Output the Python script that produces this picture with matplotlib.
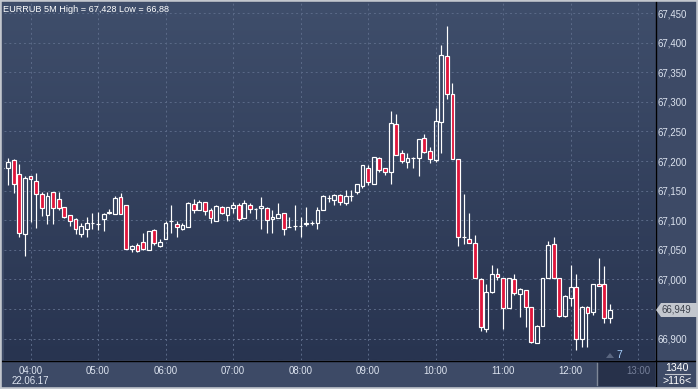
import numpy as np
import pandas as pd
import matplotlib
matplotlib.use('Agg')
import matplotlib.pyplot as plt
from matplotlib.patches import Rectangle, Polygon
from matplotlib.lines import Line2D
from matplotlib.colors import LinearSegmentedColormap

plt.rcParams['font.family'] = ['Liberation Sans', 'DejaVu Sans']

# EURRUB 5M, 22.06.17 from 03:35
opens = [67.188, 67.188, 67.201, 67.178, 67.076, 67.174, 67.167, 67.145, 67.109, 67.147,
         67.135, 67.122, 67.108, 67.102, 67.077, 67.086, 67.096, 67.094, 67.102, 67.112,
         67.110, 67.139, 67.125, 67.051, 67.058, 67.063, 67.050, 67.084, 67.056, 67.068,
         67.099, 67.093, 67.085, 67.088, 67.127, 67.118, 67.130, 67.118, 67.098, 67.123,
         67.108, 67.120, 67.125, 67.103, 67.125, 67.119, 67.120, 67.121, 67.102, 67.103,
         67.112, 67.088, 67.091, 67.091, 67.093, 67.096, 67.095, 67.118, 67.138, 67.134,
         67.142, 67.129, 67.141, 67.147, 67.158, 67.189, 67.162, 67.205, 67.188, 67.181,
         67.262, 67.213, 67.199, 67.205, 67.205, 67.239, 67.217, 67.201, 67.266, 67.377,
         67.314, 67.203, 67.071, 67.068, 67.061, 67.000, 66.917, 66.979, 67.009, 67.002,
         66.952, 67.000, 66.975, 66.982, 66.954, 66.893, 66.922, 67.002, 67.059, 67.002,
         66.938, 66.969, 66.988, 66.899, 66.954, 66.945, 66.993, 66.992, 66.934]
highs = [67.191, 67.205, 67.203, 67.195, 67.174, 67.175, 67.179, 67.148, 67.148, 67.148,
         67.148, 67.123, 67.109, 67.103, 67.095, 67.105, 67.113, 67.114, 67.113, 67.119,
         67.141, 67.146, 67.125, 67.058, 67.061, 67.078, 67.082, 67.086, 67.069, 67.099,
         67.126, 67.098, 67.095, 67.130, 67.135, 67.134, 67.131, 67.120, 67.126, 67.124,
         67.123, 67.130, 67.129, 67.134, 67.129, 67.121, 67.140, 67.122, 67.117, 67.129,
         67.113, 67.106, 67.126, 67.106, 67.122, 67.099, 67.122, 67.143, 67.143, 67.145,
         67.145, 67.151, 67.151, 67.161, 67.193, 67.193, 67.207, 67.207, 67.189, 67.284,
         67.279, 67.219, 67.213, 67.206, 67.238, 67.245, 67.223, 67.289, 67.396, 67.428,
         67.332, 67.203, 67.145, 67.112, 67.075, 67.002, 66.992, 67.024, 67.019, 67.002,
         67.002, 67.009, 66.985, 66.982, 66.954, 66.923, 67.002, 67.065, 67.072, 67.002,
         66.974, 67.024, 67.009, 66.955, 66.955, 66.992, 67.037, 67.023, 66.958]
lows = [67.186, 67.160, 67.146, 67.072, 67.040, 67.097, 67.087, 67.107, 67.093, 67.094,
        67.117, 67.103, 67.090, 67.077, 67.072, 67.072, 67.085, 67.083, 67.081, 67.111,
        67.110, 67.110, 67.051, 67.046, 67.046, 67.050, 67.049, 67.058, 67.055, 67.068,
        67.078, 67.072, 67.083, 67.088, 67.113, 67.118, 67.109, 67.095, 67.098, 67.111,
        67.098, 67.112, 67.099, 67.103, 67.113, 67.102, 67.086, 67.078, 67.078, 67.103,
        67.075, 67.088, 67.083, 67.072, 67.091, 67.092, 67.086, 67.118, 67.131, 67.126,
        67.126, 67.126, 67.133, 67.145, 67.155, 67.160, 67.162, 67.182, 67.176, 67.162,
        67.211, 67.197, 67.189, 67.189, 67.174, 67.213, 67.197, 67.199, 67.214, 67.305,
        67.203, 67.057, 67.060, 67.061, 67.002, 66.913, 66.912, 66.977, 66.999, 66.916,
        66.951, 66.974, 66.936, 66.919, 66.893, 66.892, 66.922, 67.002, 67.003, 66.936,
        66.936, 66.955, 66.880, 66.886, 66.886, 66.940, 66.989, 66.926, 66.927]
closes = [67.188, 67.198, 67.162, 67.078, 67.171, 67.169, 67.144, 67.120, 67.141, 67.121,
          67.120, 67.105, 67.099, 67.085, 67.091, 67.095, 67.096, 67.094, 67.111, 67.114,
          67.137, 67.110, 67.051, 67.056, 67.048, 67.051, 67.082, 67.061, 67.063, 67.096,
          67.099, 67.088, 67.092, 67.129, 67.117, 67.130, 67.116, 67.103, 67.124, 67.113,
          67.122, 67.126, 67.102, 67.129, 67.119, 67.119, 67.124, 67.100, 67.105, 67.110,
          67.086, 67.089, 67.091, 67.091, 67.096, 67.096, 67.118, 67.141, 67.138, 67.142,
          67.130, 67.141, 67.141, 67.161, 67.193, 67.165, 67.207, 67.184, 67.182, 67.265,
          67.211, 67.200, 67.205, 67.205, 67.238, 67.216, 67.203, 67.268, 67.379, 67.314,
          67.203, 67.071, 67.071, 67.061, 67.002, 66.919, 66.978, 67.010, 67.004, 66.951,
          67.002, 66.977, 66.983, 66.953, 66.895, 66.921, 67.002, 67.058, 67.003, 66.939,
          66.972, 66.988, 66.899, 66.953, 66.944, 66.992, 66.989, 66.934, 66.949]

times = pd.date_range('2017-06-22 03:35', periods=len(opens), freq='5min')
hours = pd.date_range('2017-06-22 04:00', '2017-06-22 13:00', freq='h')
price_ticks = np.round(np.arange(66.90, 67.451, 0.05), 2)

W, H = 698, 389
def fx(px):
    return px / W
def fy(py):
    return 1 - py / H

panel = '#3d4a66'
fig = plt.figure(figsize=(W / 100, H / 100), dpi=100, facecolor=panel)
ax = fig.add_axes([fx(4), fy(360), fx(655) - fx(4), fy(3) - fy(360)])

x = np.arange(len(opens))
xmin, xmax = 0.28, 116.0
ymin, ymax = 66.8639, 67.4669

# gradient background
cmap = LinearSegmentedColormap.from_list('bg', ['#3f4e6b', '#283450'])
ax.imshow(np.linspace(0, 1, 256).reshape(-1, 1), cmap=cmap, aspect='auto',
          extent=[xmin, xmax, ymin, ymax], zorder=0)

# grid
hour_pos = [(t - times[0]) / pd.Timedelta('5min') for t in hours]
for p in price_ticks:
    ax.axhline(p, color='#5b6a88', lw=0.7, ls=(0, (2, 3)), zorder=1)
for hp in hour_pos:
    ax.axvline(hp, color='#5b6a88', lw=0.7, ls=(0, (2, 3)), zorder=1)

# candles
o = np.array(opens); h = np.array(highs); l = np.array(lows); c = np.array(closes)
top = np.maximum(o, c); bot = np.minimum(o, c)
up = c >= o
ax.vlines(x, top, h, color='white', lw=0.85, zorder=2)
ax.vlines(x, l, bot, color='white', lw=0.85, zorder=2)
ax.bar(x[up], (top - bot)[up], bottom=bot[up], width=0.68, facecolor='none',
       edgecolor='white', linewidth=0.85, zorder=3)
ax.bar(x[~up], (top - bot)[~up], bottom=bot[~up], width=0.68, facecolor='#e0163c',
       edgecolor='white', linewidth=0.85, zorder=3)

ax.set_xlim(xmin, xmax)
ax.set_ylim(ymin, ymax)
for s in ax.spines.values():
    s.set_visible(False)

# axes labels
labels = [t.strftime('%H:%M') for t in hours]
labels[0] = labels[0] + '\n22.06.17'
ax.set_xticks(hour_pos)
ax.set_xticklabels(labels, fontsize=6.9, color='#dde4f0', va='top', linespacing=1.05)
ax.get_xticklabels()[-1].set_color('#76809a')
ax.tick_params(axis='x', length=0, pad=4)

ax.yaxis.tick_right()
ax.set_yticks(price_ticks)
ax.set_yticklabels(['' if abs(p - 66.95) < 1e-6 else f'{p:.3f}'.replace('.', ',')
                    for p in price_ticks], fontsize=6.9, color='#dde4f0')
ax.tick_params(axis='y', length=0, pad=2)

# 13:00 future box (behind the axes so the tick label stays on top)
fig.patches.append(Rectangle((fx(598), fy(386)), fx(655) - fx(598), fy(361) - fy(386),
                             transform=fig.transFigure, facecolor='#27314a',
                             edgecolor='none', zorder=-1))
fig.lines.append(Line2D([fx(597), fx(597)], [fy(363), fy(385)], transform=fig.transFigure,
                        color='#7f8898', lw=1))

# separators
fig.lines.append(Line2D([fx(2), fx(696)], [fy(360.5), fy(360.5)], transform=fig.transFigure,
                        color='black', lw=1))
fig.lines.append(Line2D([fx(655.5), fx(655.5)], [fy(1), fy(386)], transform=fig.transFigure,
                        color='black', lw=1))

# outer border
fig.patches.append(Rectangle((0, 0), 1, 1, transform=fig.transFigure, fill=False,
                             edgecolor='#c3c7ce', lw=2.6, zorder=5))

# title
fig.text(fx(3), fy(9), 'EURRUB 5M High = 67,428 Low = 66,88', fontsize=6.6,
         color='white', va='center', ha='left')

# last price marker
fig.patches.append(Polygon([(fx(656), fy(310)), (fx(661), fy(303)), (fx(697), fy(303)),
                            (fx(697), fy(317)), (fx(661), fy(317))], closed=True,
                           transform=fig.transFigure, facecolor='#c3c7ce',
                           edgecolor='none', zorder=3))
fig.text(fx(661), fy(310), f'{closes[-1]:.3f}'.replace('.', ','), fontsize=6.9,
         color='#3a3f4a', va='center', ha='left', zorder=4)

# bottom-right counters
fig.text(fx(677), fy(368), '1340', fontsize=7.6, color='white', ha='center', va='center')
fig.lines.append(Line2D([fx(665), fx(690)], [fy(373.5), fy(373.5)], transform=fig.transFigure,
                        color='#c3c7ce', lw=0.8))
fig.text(fx(677), fy(380.5), '>116<', fontsize=7.6, color='white', ha='center', va='center')

# bars-ahead marker
fig.patches.append(Polygon([(fx(606), fy(358)), (fx(610), fy(353)), (fx(614), fy(358))],
                           closed=True, transform=fig.transFigure, facecolor='#5a6680',
                           edgecolor='none'))
fig.text(fx(619), fy(355), '7', fontsize=7.5, color='#a8d2ff', ha='center', va='center')

fig.savefig('out.png', dpi=100, facecolor=panel)
